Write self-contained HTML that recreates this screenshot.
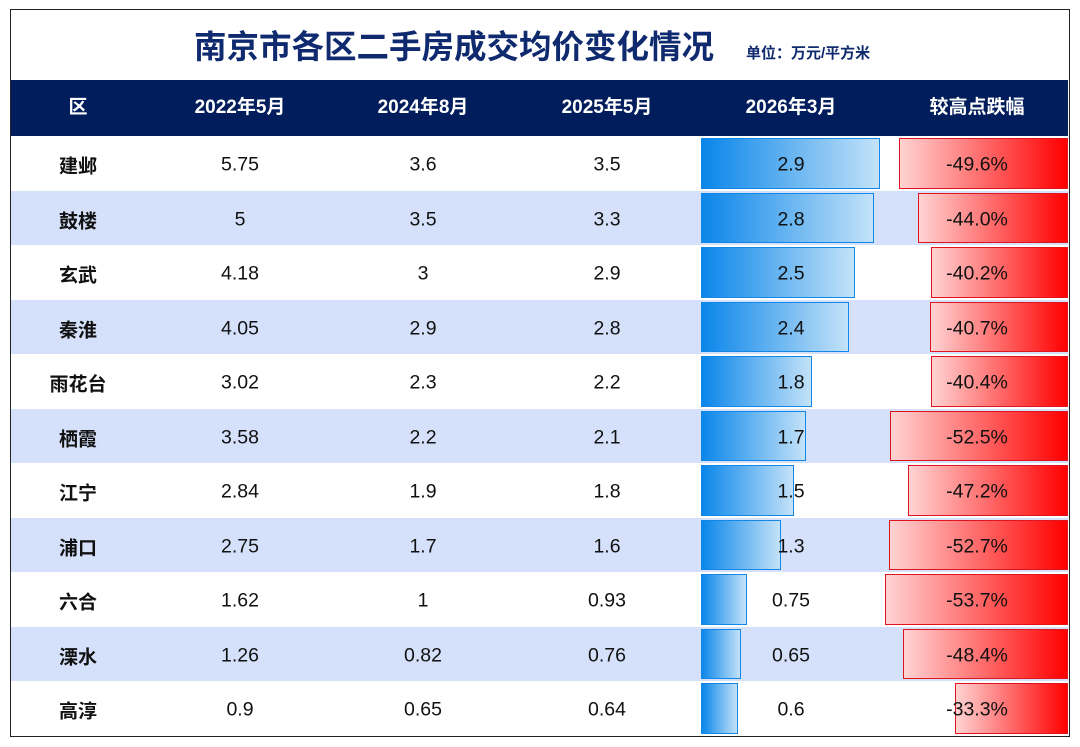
<!DOCTYPE html>
<html><head><meta charset="utf-8"><style>
body{margin:0;width:1080px;height:747px;background:#fff;font-family:"Liberation Sans","Noto Sans CJK SC",sans-serif;overflow:hidden}
#frame{position:absolute;left:10px;top:9px;width:1058px;height:726px;border:1.5px solid #222;overflow:hidden}
#title{position:absolute;left:194px;top:27px;font-size:32.5px;line-height:40px;font-weight:bold;color:#0f2a6e;white-space:nowrap}
#unit{position:absolute;left:746px;top:42px;font-size:15px;font-weight:bold;color:#0f2a6e}
#hdr{position:absolute;left:11px;top:80px;width:1057px;height:56px;background:#021d5b}
.h{position:absolute;top:0;height:56px;line-height:56px;color:#fff;font-weight:bold;font-size:19px;text-align:center;transform:translateX(-50%);white-space:nowrap}
.row{position:absolute;left:11px;width:1057px}
.c{position:absolute;font-size:19.5px;color:#111;transform:translate(-50%,-50%);white-space:nowrap}
.bar{position:absolute;box-sizing:border-box}
</style></head><body>
<div id="frame"></div>
<div id="title">南京市各区二手房成交均价变化情况</div>
<div id="unit">单位：万元/平方米</div>
<div id="hdr">
<div class="h" style="left:67px">区</div>
<div class="h" style="left:229px">2022年5月</div>
<div class="h" style="left:412px">2024年8月</div>
<div class="h" style="left:596px">2025年5月</div>
<div class="h" style="left:780px">2026年3月</div>
<div class="h" style="left:966px">较高点跌幅</div>
</div>
<div id="rows"></div>
<script>
const districts=["建邺","鼓楼","玄武","秦淮","雨花台","栖霞","江宁","浦口","六合","溧水","高淳"];
const p2022=["5.75","5","4.18","4.05","3.02","3.58","2.84","2.75","1.62","1.26","0.9"];
const p2024=["3.6","3.5","3","2.9","2.3","2.2","1.9","1.7","1","0.82","0.65"];
const p2025=["3.5","3.3","2.9","2.8","2.2","2.1","1.8","1.6","0.93","0.76","0.64"];
const p2026=[2.9,2.8,2.5,2.4,1.8,1.7,1.5,1.3,0.75,0.65,0.6];
const drops=[-49.6,-44.0,-40.2,-40.7,-40.4,-52.5,-47.2,-52.7,-53.7,-48.4,-33.3];
const top0=136,rh=54.5;
const xBlue=v=>v*61.7, xRed=v=>Math.abs(v)*3.4;
const root=document.getElementById('rows');
districts.forEach((d,i)=>{
  const r=document.createElement('div');
  
  
  r.className='row';r.style.top=(top0+i*rh)+'px';r.style.height=rh+'px';
  r.style.background=i%2?'#d5e1fb':'#fff';
  const cy=rh/2+2;
  let h='';
  const bw=xBlue(p2026[i]);
  h+=`<div class="bar" style="left:690px;top:2px;height:${rh-4}px;width:${bw}px;border:1.5px solid #1287e6;background:linear-gradient(90deg,#0a86ea,#c3e2f8)"></div>`;
  const rw=xRed(drops[i]);
  h+=`<div class="bar" style="left:${1057-rw}px;top:2px;height:${rh-4}px;width:${rw}px;border:1.5px solid #e0141e;background:linear-gradient(90deg,#ffd3d3,#ff0000)"></div>`;
  h+=`<div class="c" style="left:67px;top:${cy}px;font-weight:bold;font-size:19px">${d}</div>`;
  h+=`<div class="c" style="left:229px;top:${cy}px">${p2022[i]}</div>`;
  h+=`<div class="c" style="left:412px;top:${cy}px">${p2024[i]}</div>`;
  h+=`<div class="c" style="left:596px;top:${cy}px">${p2025[i]}</div>`;
  h+=`<div class="c" style="left:780px;top:${cy}px">${p2026[i]}</div>`;
  h+=`<div class="c" style="left:966px;top:${cy}px">${drops[i].toFixed(1)}%</div>`;
  r.innerHTML=h;root.appendChild(r);
});
</script>
</body></html>
